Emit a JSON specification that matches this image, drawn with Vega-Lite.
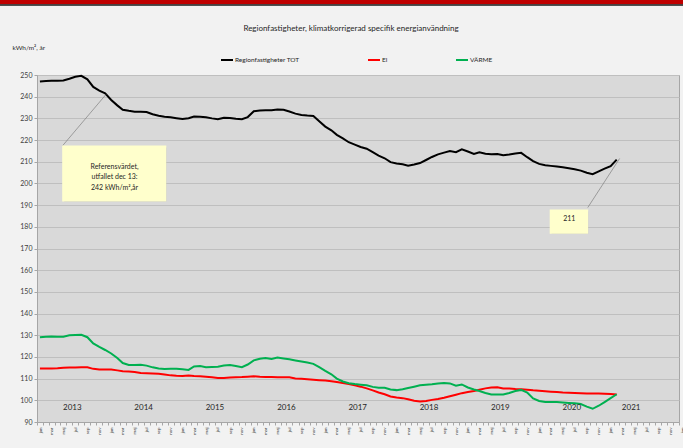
{
  "$schema": "https://vega.github.io/schema/vega-lite/v6.json",
  "width": 642,
  "height": 347,
  "autosize": {"type": "none"},
  "padding": {"left": 37, "top": 75, "right": 4, "bottom": 26},
  "background": "#f2f2f2",
  "config": {
    "font": "Lato",
    "view": {"fill": "#d9d9d9", "stroke": "#a6a6a6", "strokeWidth": 1}
  },
  "title": {
    "text": "Regionfastigheter, klimatkorrigerad specifik energianvändning",
    "fontSize": 8,
    "fontWeight": "normal",
    "color": "#262626",
    "frame": "group",
    "anchor": "middle",
    "dx": -7,
    "offset": 0,
    "dy": 37,
    "baseline": "middle"
  },
  "datasets": {
    "energi": [
      {"d": "2013-01-16", "tot": 247.0, "el": 114.7, "varme": 129.1},
      {"d": "2013-02-16", "tot": 247.2, "el": 114.7, "varme": 129.3},
      {"d": "2013-03-16", "tot": 247.3, "el": 114.7, "varme": 129.4},
      {"d": "2013-04-16", "tot": 247.4, "el": 114.8, "varme": 129.3},
      {"d": "2013-05-16", "tot": 247.5, "el": 115.0, "varme": 129.3},
      {"d": "2013-06-16", "tot": 248.3, "el": 115.1, "varme": 130.0},
      {"d": "2013-07-16", "tot": 249.2, "el": 115.1, "varme": 130.1},
      {"d": "2013-08-16", "tot": 249.6, "el": 115.2, "varme": 130.2},
      {"d": "2013-09-16", "tot": 248.0, "el": 115.2, "varme": 129.1},
      {"d": "2013-10-16", "tot": 244.5, "el": 114.5, "varme": 126.2},
      {"d": "2013-11-16", "tot": 242.8, "el": 114.2, "varme": 124.6},
      {"d": "2013-12-16", "tot": 241.6, "el": 114.2, "varme": 123.2},
      {"d": "2014-01-16", "tot": 238.5, "el": 114.2, "varme": 121.6},
      {"d": "2014-02-16", "tot": 236.0, "el": 113.8, "varme": 119.5},
      {"d": "2014-03-16", "tot": 234.0, "el": 113.4, "varme": 117.2},
      {"d": "2014-04-16", "tot": 233.5, "el": 113.3, "varme": 116.3},
      {"d": "2014-05-16", "tot": 233.1, "el": 113.1, "varme": 116.3},
      {"d": "2014-06-16", "tot": 233.1, "el": 112.6, "varme": 116.4},
      {"d": "2014-07-16", "tot": 232.9, "el": 112.5, "varme": 116.0},
      {"d": "2014-08-16", "tot": 231.9, "el": 112.4, "varme": 115.2},
      {"d": "2014-09-16", "tot": 231.2, "el": 112.3, "varme": 114.7},
      {"d": "2014-10-16", "tot": 230.8, "el": 111.9, "varme": 114.4},
      {"d": "2014-11-16", "tot": 230.5, "el": 111.5, "varme": 114.6},
      {"d": "2014-12-16", "tot": 230.1, "el": 111.3, "varme": 114.5},
      {"d": "2015-01-16", "tot": 229.7, "el": 111.2, "varme": 114.3},
      {"d": "2015-02-16", "tot": 230.1, "el": 111.4, "varme": 114.0},
      {"d": "2015-03-16", "tot": 230.9, "el": 111.2, "varme": 115.6},
      {"d": "2015-04-16", "tot": 230.8, "el": 111.1, "varme": 115.8},
      {"d": "2015-05-16", "tot": 230.5, "el": 110.9, "varme": 115.3},
      {"d": "2015-06-16", "tot": 230.0, "el": 110.6, "varme": 115.4},
      {"d": "2015-07-16", "tot": 229.6, "el": 110.3, "varme": 115.5},
      {"d": "2015-08-16", "tot": 230.3, "el": 110.3, "varme": 116.0},
      {"d": "2015-09-16", "tot": 230.2, "el": 110.5, "varme": 116.3},
      {"d": "2015-10-16", "tot": 229.8, "el": 110.6, "varme": 115.8},
      {"d": "2015-11-16", "tot": 229.6, "el": 110.7, "varme": 115.3},
      {"d": "2015-12-16", "tot": 230.6, "el": 110.9, "varme": 116.5},
      {"d": "2016-01-16", "tot": 233.3, "el": 111.1, "varme": 118.4},
      {"d": "2016-02-16", "tot": 233.6, "el": 110.9, "varme": 119.2},
      {"d": "2016-03-16", "tot": 233.8, "el": 110.8, "varme": 119.5},
      {"d": "2016-04-16", "tot": 233.7, "el": 110.7, "varme": 119.1},
      {"d": "2016-05-16", "tot": 234.1, "el": 110.6, "varme": 119.7},
      {"d": "2016-06-16", "tot": 234.0, "el": 110.6, "varme": 119.3},
      {"d": "2016-07-16", "tot": 233.2, "el": 110.6, "varme": 118.9},
      {"d": "2016-08-16", "tot": 232.2, "el": 110.1, "varme": 118.4},
      {"d": "2016-09-16", "tot": 231.6, "el": 109.9, "varme": 117.9},
      {"d": "2016-10-16", "tot": 231.3, "el": 109.7, "varme": 117.4},
      {"d": "2016-11-16", "tot": 231.1, "el": 109.5, "varme": 116.8},
      {"d": "2016-12-16", "tot": 228.7, "el": 109.3, "varme": 115.3},
      {"d": "2017-01-16", "tot": 226.2, "el": 109.1, "varme": 113.6},
      {"d": "2017-02-16", "tot": 224.5, "el": 108.8, "varme": 112.0},
      {"d": "2017-03-16", "tot": 222.4, "el": 108.4, "varme": 110.0},
      {"d": "2017-04-16", "tot": 220.8, "el": 108.0, "varme": 108.7},
      {"d": "2017-05-16", "tot": 219.0, "el": 107.5, "varme": 107.9},
      {"d": "2017-06-16", "tot": 217.9, "el": 106.9, "varme": 107.5},
      {"d": "2017-07-16", "tot": 216.8, "el": 106.3, "varme": 107.2},
      {"d": "2017-08-16", "tot": 216.0, "el": 105.5, "varme": 106.9},
      {"d": "2017-09-16", "tot": 214.4, "el": 104.6, "varme": 106.2},
      {"d": "2017-10-16", "tot": 212.8, "el": 103.6, "varme": 105.8},
      {"d": "2017-11-16", "tot": 211.6, "el": 102.8, "varme": 105.8},
      {"d": "2017-12-16", "tot": 209.8, "el": 101.8, "varme": 105.0},
      {"d": "2018-01-16", "tot": 209.2, "el": 101.3, "varme": 104.7},
      {"d": "2018-02-16", "tot": 208.8, "el": 101.0, "varme": 105.1},
      {"d": "2018-03-16", "tot": 208.2, "el": 100.5, "varme": 105.7},
      {"d": "2018-04-16", "tot": 208.7, "el": 99.8, "varme": 106.3},
      {"d": "2018-05-16", "tot": 209.4, "el": 99.5, "varme": 106.9},
      {"d": "2018-06-16", "tot": 210.8, "el": 99.7, "varme": 107.2},
      {"d": "2018-07-16", "tot": 212.2, "el": 100.2, "varme": 107.4},
      {"d": "2018-08-16", "tot": 213.4, "el": 100.6, "varme": 107.7},
      {"d": "2018-09-16", "tot": 214.2, "el": 101.2, "varme": 108.0},
      {"d": "2018-10-16", "tot": 214.9, "el": 101.9, "varme": 107.8},
      {"d": "2018-11-16", "tot": 214.4, "el": 102.6, "varme": 106.7},
      {"d": "2018-12-16", "tot": 215.7, "el": 103.3, "varme": 107.3},
      {"d": "2019-01-16", "tot": 214.7, "el": 103.8, "varme": 105.9},
      {"d": "2019-02-16", "tot": 213.6, "el": 104.3, "varme": 105.0},
      {"d": "2019-03-16", "tot": 214.4, "el": 104.9, "varme": 104.3},
      {"d": "2019-04-16", "tot": 213.7, "el": 105.5, "varme": 103.4},
      {"d": "2019-05-16", "tot": 213.5, "el": 105.9, "varme": 102.7},
      {"d": "2019-06-16", "tot": 213.6, "el": 106.0, "varme": 102.7},
      {"d": "2019-07-16", "tot": 213.0, "el": 105.5, "varme": 102.7},
      {"d": "2019-08-16", "tot": 213.3, "el": 105.4, "varme": 103.4},
      {"d": "2019-09-16", "tot": 213.8, "el": 105.2, "varme": 104.3},
      {"d": "2019-10-16", "tot": 214.1, "el": 105.1, "varme": 104.8},
      {"d": "2019-11-16", "tot": 212.1, "el": 104.9, "varme": 103.6},
      {"d": "2019-12-16", "tot": 210.3, "el": 104.6, "varme": 100.9},
      {"d": "2020-01-16", "tot": 209.0, "el": 104.4, "varme": 99.7},
      {"d": "2020-02-16", "tot": 208.4, "el": 104.2, "varme": 99.2},
      {"d": "2020-03-16", "tot": 208.1, "el": 104.0, "varme": 99.2},
      {"d": "2020-04-16", "tot": 207.8, "el": 103.8, "varme": 99.2},
      {"d": "2020-05-16", "tot": 207.5, "el": 103.6, "varme": 99.0},
      {"d": "2020-06-16", "tot": 207.0, "el": 103.5, "varme": 98.8},
      {"d": "2020-07-16", "tot": 206.5, "el": 103.4, "varme": 98.6},
      {"d": "2020-08-16", "tot": 205.9, "el": 103.3, "varme": 98.3},
      {"d": "2020-09-16", "tot": 204.9, "el": 103.1, "varme": 97.1},
      {"d": "2020-10-16", "tot": 204.3, "el": 103.1, "varme": 96.1},
      {"d": "2020-11-16", "tot": 205.6, "el": 103.1, "varme": 97.5},
      {"d": "2020-12-16", "tot": 206.8, "el": 103.0, "varme": 99.2},
      {"d": "2021-01-16", "tot": 208.0, "el": 102.9, "varme": 101.0},
      {"d": "2021-02-16", "tot": 211.0, "el": 102.7, "varme": 102.8}
    ],
    "ar": [
      {"ar": "2013", "d": "2013-07-01"},
      {"ar": "2014", "d": "2014-07-01"},
      {"ar": "2015", "d": "2015-07-01"},
      {"ar": "2016", "d": "2016-07-01"},
      {"ar": "2017", "d": "2017-07-01"},
      {"ar": "2018", "d": "2018-07-01"},
      {"ar": "2019", "d": "2019-07-01"},
      {"ar": "2020", "d": "2020-07-01"},
      {"ar": "2021", "d": "2021-05-01"}
    ],
    "ett": [{}]
  },
  "layer": [
    {
      "data": {"name": "energi"},
      "transform": [{"fold": ["tot", "el", "varme"], "as": ["serie", "varde"]}],
      "mark": {"type": "line", "strokeWidth": 2},
      "encoding": {
        "x": {
          "field": "d",
          "type": "temporal",
          "scale": {"domain": [{"year": 2013, "month": 1, "date": 1}, {"year": 2022, "month": 1, "date": 1}], "nice": false},
          "axis": {
            "title": null,
            "grid": false,
            "tickCount": {"interval": "month", "step": 1},
            "labelExpr": "month(datum.value) % 2 == 0 ? ['jan','feb','mar','apr','maj','jun','jul','aug','sep','okt','nov','dec'][month(datum.value)] : ''",
            "labelAngle": -90,
            "labelAlign": "right",
            "labelBaseline": "middle",
            "labelFontSize": 4.5,
            "labelColor": "#404040",
            "labelOffset": 3,
            "labelOverlap": false,
            "labelFlush": false,
            "labelBound": false,
            "labelPadding": 2,
            "tickSize": 3,
            "tickColor": "#a6a6a6",
            "domainColor": "#a6a6a6"
          }
        },
        "y": {
          "field": "varde",
          "type": "quantitative",
          "scale": {"domain": [90, 250], "nice": false, "zero": false},
          "axis": {
            "title": "kWh/m², år",
            "titleAngle": 0,
            "titleAlign": "left",
            "titleBaseline": "middle",
            "titleX": -25,
            "titleY": -28,
            "titleFontSize": 6.5,
            "titleFontWeight": "normal",
            "titleColor": "#262626",
            "values": [90, 100, 110, 120, 130, 140, 150, 160, 170, 180, 190, 200, 210, 220, 230, 240, 250],
            "tickCount": 40,
            "labelOverlap": false,
            "labelFontSize": 7,
            "labelColor": "#404040",
            "labelPadding": 2,
            "tickSize": 3,
            "tickColor": "#a6a6a6",
            "domainColor": "#a6a6a6",
            "grid": true,
            "gridColor": "#bfbfbf"
          }
        },
        "color": {
          "field": "serie",
          "type": "nominal",
          "scale": {"domain": ["tot", "el", "varme"], "range": ["#000000", "#ff0000", "#00b050"]},
          "legend": {
            "orient": "none",
            "legendX": 183,
            "legendY": -22,
            "direction": "horizontal",
            "columns": 3,
            "title": null,
            "symbolType": "stroke",
            "symbolSize": 144,
            "symbolStrokeWidth": 2,
            "labelFontSize": 6.5,
            "labelColor": "#262626",
            "labelOffset": 1,
            "columnPadding": 64,
            "labelExpr": "datum.label == 'tot' ? 'Regionfastigheter TOT' : (datum.label == 'el' ? 'El' : 'VÄRME')"
          }
        }
      }
    },
    {
      "data": {"name": "ett"},
      "mark": {"type": "rect", "color": "#c00000", "clip": false},
      "encoding": {
        "x": {"datum": {"year": 2012, "month": 6, "date": 20}, "type": "temporal"},
        "x2": {"datum": {"year": 2022, "month": 1, "date": 25}},
        "y": {"datum": 284.6, "type": "quantitative"},
        "y2": {"datum": 282.6}
      }
    },
    {
      "data": {"name": "ett"},
      "mark": {"type": "rect", "color": "#1a1a1a", "clip": false},
      "encoding": {
        "x": {"datum": {"year": 2012, "month": 6, "date": 20}, "type": "temporal"},
        "x2": {"datum": {"year": 2022, "month": 1, "date": 25}},
        "y": {"datum": 282.6, "type": "quantitative"},
        "y2": {"datum": 281.9}
      }
    },
    {
      "data": {"name": "ar"},
      "mark": {"type": "text", "fontSize": 8, "color": "#262626"},
      "encoding": {
        "x": {"field": "d", "type": "temporal"},
        "y": {"datum": 96.6, "type": "quantitative"},
        "text": {"field": "ar"}
      }
    },
    {
      "data": {"name": "ett"},
      "mark": {"type": "rule", "color": "#808080", "strokeWidth": 0.7},
      "encoding": {
        "x": {"datum": {"year": 2013, "month": 5, "date": 13}, "type": "temporal"},
        "x2": {"datum": {"year": 2013, "month": 12, "date": 20}},
        "y": {"datum": 217.5, "type": "quantitative"},
        "y2": {"datum": 241.0}
      }
    },
    {
      "data": {"name": "ett"},
      "mark": {"type": "rule", "color": "#808080", "strokeWidth": 0.7},
      "encoding": {
        "x": {"datum": {"year": 2020, "month": 9, "date": 21}, "type": "temporal"},
        "x2": {"datum": {"year": 2021, "month": 3, "date": 3}},
        "y": {"datum": 188.9, "type": "quantitative"},
        "y2": {"datum": 211.5}
      }
    },
    {
      "data": {"name": "ett"},
      "mark": {"type": "rect", "color": "#8c8c8c", "opacity": 0.45, "xOffset": 2, "yOffset": 2},
      "encoding": {
        "x": {"datum": {"year": 2013, "month": 5, "date": 10}, "type": "temporal"},
        "x2": {"datum": {"year": 2014, "month": 10, "date": 25}},
        "y": {"datum": 217.5, "type": "quantitative"},
        "y2": {"datum": 191.7}
      }
    },
    {
      "data": {"name": "ett"},
      "mark": {"type": "rect", "color": "#ffffcc"},
      "encoding": {
        "x": {"datum": {"year": 2013, "month": 5, "date": 10}, "type": "temporal"},
        "x2": {"datum": {"year": 2014, "month": 10, "date": 25}},
        "y": {"datum": 217.5, "type": "quantitative"},
        "y2": {"datum": 191.7}
      }
    },
    {
      "data": {"name": "ett"},
      "mark": {"type": "rect", "color": "#8c8c8c", "opacity": 0.45, "xOffset": 2, "yOffset": 2},
      "encoding": {
        "x": {"datum": {"year": 2020, "month": 3, "date": 10}, "type": "temporal"},
        "x2": {"datum": {"year": 2020, "month": 9, "date": 23}},
        "y": {"datum": 188.0, "type": "quantitative"},
        "y2": {"datum": 176.8}
      }
    },
    {
      "data": {"name": "ett"},
      "mark": {"type": "rect", "color": "#ffffcc"},
      "encoding": {
        "x": {"datum": {"year": 2020, "month": 3, "date": 10}, "type": "temporal"},
        "x2": {"datum": {"year": 2020, "month": 9, "date": 23}},
        "y": {"datum": 188.0, "type": "quantitative"},
        "y2": {"datum": 176.8}
      }
    },
    {
      "data": {"name": "ett"},
      "mark": {"type": "text", "fontSize": 7, "color": "#262626", "align": "center", "baseline": "middle", "lineHeight": 10.5,
               "text": ["Referensvärdet,", "utfallet dec 13:", "242 kWh/m²,år"]},
      "encoding": {
        "x": {"datum": {"year": 2014, "month": 2, "date": 2}, "type": "temporal"},
        "y": {"datum": 207.7, "type": "quantitative"}
      }
    },
    {
      "data": {"name": "ett"},
      "mark": {"type": "text", "fontSize": 7, "color": "#262626", "align": "center", "baseline": "middle", "text": "211"},
      "encoding": {
        "x": {"datum": {"year": 2020, "month": 6, "date": 18}, "type": "temporal"},
        "y": {"datum": 183.4, "type": "quantitative"}
      }
    }
  ]
}
